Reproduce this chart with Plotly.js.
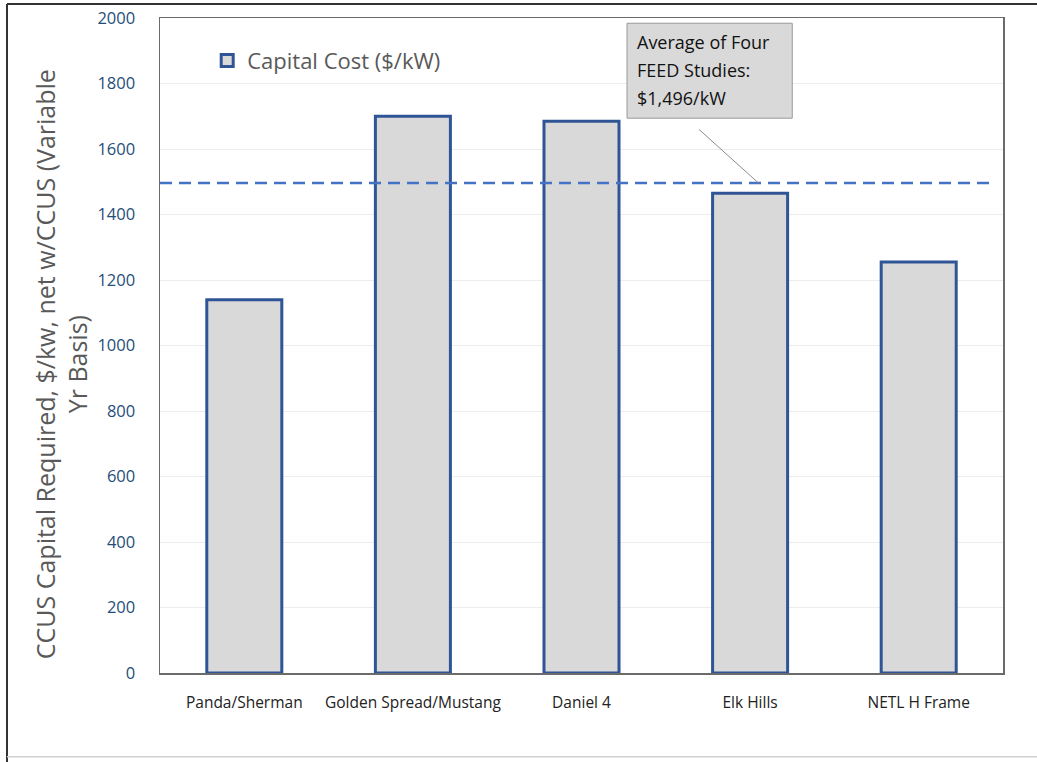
<!DOCTYPE html>
<html>
<head>
<meta charset="utf-8">
<script src="https://cdn.plot.ly/plotly-3.0.1.min.js"></script>
<style>html,body{margin:0;padding:0;background:#fff;}#chart{width:1037px;height:762px;}</style>
</head>
<body>
<div id="chart"></div>
<script>
const categories = ["Panda/Sherman", "Golden Spread/Mustang", "Daniel 4", "Elk Hills", "NETL H Frame"];
const capitalCost = [1140, 1700, 1685, 1465, 1255];
const seriesName = "Capital Cost ($/kW)";
const averageValue = 1496;
const calloutLines = ["Average of Four", "FEED Studies:", "$1,496/kW"];
const yTickValues = [0, 200, 400, 600, 800, 1000, 1200, 1400, 1600, 1800, 2000];
const yTitle = "CCUS Capital Required, $/kw, net w/CCUS (Variable<br>Yr Basis)";

const FONT = "Open Sans, Noto Sans, sans-serif";

const trace = {
  type: "bar",
  x: categories,
  y: capitalCost,
  name: seriesName,
  showlegend: true,
  width: 0.445,
  marker: {color: "#d9d9d9", line: {color: "#2f5597", width: 3}},
  hoverinfo: "x+y"
};

const calloutY = [0.964, 0.920, 0.878];
const annotations = calloutLines.map((t, i) => ({
  xref: "paper", yref: "paper", x: 0.563, y: calloutY[i],
  xanchor: "left", yanchor: "middle", showarrow: false,
  text: t, font: {family: FONT, size: 18, color: "#111"}
}));
annotations.push({
  x: 3.05, y: averageValue, xref: "x", yref: "y",
  text: "", showarrow: true, arrowhead: 0, arrowwidth: 1,
  arrowcolor: "#8c8c8c", ax: -61, ay: -55, standoff: 0
});
// y-axis title drawn as a rotated annotation so it can sit slightly below centre, as in the reference
annotations.push({
  xref: "paper", yref: "paper", x: -0.117, y: 0.472,
  xanchor: "center", yanchor: "middle", showarrow: false, textangle: -90,
  text: yTitle, font: {family: FONT, size: 25, color: "#595959"}
});

const layout = {
  width: 1037, height: 762,
  margin: {l: 160, r: 34, t: 18, b: 89},
  paper_bgcolor: "#ffffff",
  plot_bgcolor: "#ffffff",
  font: {family: FONT},
  bargap: 0.555,
  showlegend: true,
  legend: {
    x: 0.056, y: 0.935, xanchor: "left", yanchor: "middle",
    bgcolor: "rgba(0,0,0,0)",
    font: {family: FONT, size: 22, color: "#595959"},
    itemwidth: 30
  },
  xaxis: {
    type: "category",
    showline: true, mirror: true, linecolor: "#6b6b6b", linewidth: 1.5,
    showgrid: false, ticks: "",
    tickfont: {family: FONT, size: 15.5, color: "#222"},
    ticklabelstandoff: 15,
    fixedrange: true
  },
  yaxis: {
    range: [0, 2000],
    tickvals: yTickValues,
    showline: true, mirror: true, linecolor: "#6b6b6b", linewidth: 1.5,
    showgrid: true, gridcolor: "#ececec", gridwidth: 1,
    zeroline: false, ticks: "",
    tickfont: {family: FONT, size: 16.5, color: "#1f4e79"},
    ticklabelstandoff: 20,
    fixedrange: true
  },
  shapes: [
    {type: "line", xref: "paper", yref: "y", x0: 0, x1: 0.985, y0: averageValue, y1: averageValue,
     line: {color: "#4472c4", width: 2.5, dash: "12px,7px"}},
    {type: "rect", xref: "paper", yref: "paper", x0: 0.554, x1: 0.750, y0: 0.847, y1: 0.992,
     fillcolor: "#d9d9d9", line: {color: "#9a9a9a", width: 1}},
    {type: "line", xref: "paper", yref: "paper", x0: -0.1815, x1: -0.1815, y0: -0.2, y1: 1.0214,
     line: {color: "#333", width: 2}},
    {type: "line", xref: "paper", yref: "paper", x0: -0.1815, x1: 1.1, y0: 1.0214, y1: 1.0214,
     line: {color: "#333", width: 2}},
    {type: "line", xref: "paper", yref: "paper", x0: -0.1815, x1: 1.1, y0: -0.128, y1: -0.128,
     line: {color: "#d0d0d0", width: 1.5}}
  ],
  annotations: annotations
};

Plotly.newPlot("chart", [trace], layout, {displayModeBar: false, staticPlot: true});
</script>
</body>
</html>
